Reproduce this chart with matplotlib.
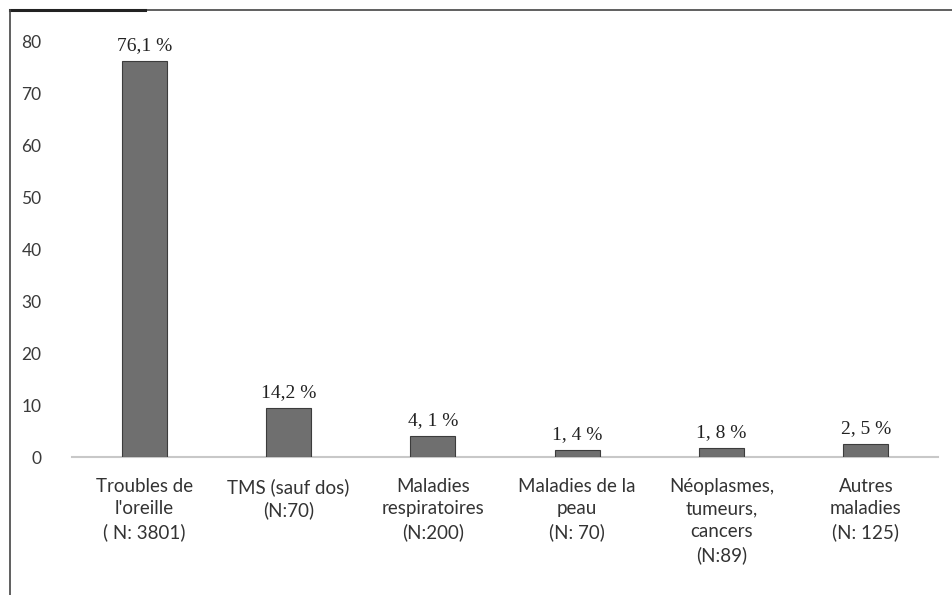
import numpy as np
from matplotlib import pyplot as plt
from matplotlib.lines import Line2D


categories = ["Troubles de\nl'oreille\n( N: 3801)",
              "TMS (sauf dos)\n(N:70)",
              "Maladies\nrespiratoires\n(N:200)",
              "Maladies de la\npeau\n(N: 70)",
              "Néoplasmes,\ntumeurs,\ncancers\n(N:89)",
              "Autres\nmaladies\n(N: 125)"]
heights = [76.1, 9.4, 4.1, 1.4, 1.8, 2.5]
value_labels = ['76,1 %', '14,2 %', '4, 1 %', '1, 4 %', '1, 8 %', '2, 5 %']
y_ticks = [0, 10, 20, 30, 40, 50, 60, 70, 80]

plt.rcParams['font.family'] = ['Lato', 'DejaVu Sans']

fig = plt.figure(figsize=(9.52, 5.95), dpi=100)
ax = fig.add_axes([72 / 952, 138 / 595, 866 / 952, 416 / 595])

x = np.arange(len(categories))
ax.bar(x, heights, width=0.31, color='#6f6f6f', edgecolor='#3c3c3c', linewidth=0.8, zorder=3)

for xi, h, lab in zip(x, heights, value_labels):
    ax.text(xi, h + 1.3, lab, ha='center', va='bottom', fontsize=14,
            family='Liberation Serif', color='#222222')

ax.set_xlim(-0.5, len(categories) - 0.5)
ax.set_ylim(0, 80)
ax.set_yticks(y_ticks)
ax.set_yticklabels([str(t) for t in y_ticks], fontsize=12.5, color='#3a3a3a')
ax.set_xticks(x)
ax.set_xticklabels(categories, fontsize=13.5, color='#333333', linespacing=1.4)
ax.tick_params(axis='both', length=0)
ax.tick_params(axis='y', pad=22)
ax.tick_params(axis='x', pad=15)

for s in ['top', 'right', 'left']:
    ax.spines[s].set_visible(False)
ax.spines['bottom'].set_color('#c8c8c8')
ax.spines['bottom'].set_linewidth(1.5)

# cadre autour de la figure (haut et gauche)
fig.add_artist(Line2D([10 / 952, 1], [1 - 10 / 595, 1 - 10 / 595], color='#444444', linewidth=1.2))
fig.add_artist(Line2D([10 / 952, 145 / 952], [1 - 10 / 595, 1 - 10 / 595], color='#222222', linewidth=2.2))
fig.add_artist(Line2D([10 / 952, 10 / 952], [0, 1 - 10 / 595], color='#444444', linewidth=1.2))

plt.savefig('out.png', dpi=100)
